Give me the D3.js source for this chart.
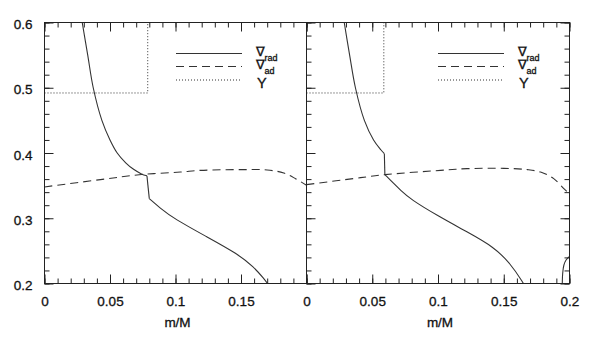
<!DOCTYPE html>
<html>
<head>
<meta charset="utf-8">
<script src="https://cdn.jsdelivr.net/npm/d3@7"></script>
<style>
  body { margin: 0; background: #fff; }
  svg { display: block; }
  text { font-family: "Liberation Sans", Arial, Helvetica, sans-serif; fill: #111; stroke: #111; stroke-width: 0.3; }
</style>
</head>
<body>
<svg id="chart" width="600" height="339"></svg>
<script>
// tick labels
var xLabelsA = [0, 0.05, 0.1, 0.15];
var xLabelsB = [0, 0.05, 0.1, 0.15, 0.2];
var yLabels = [0.2, 0.3, 0.4, 0.5, 0.6];
var xTitle = "m/M";

// left panel
var radA_top = [[0.0288,0.60],[0.0330,0.55],[0.0372,0.50],[0.0438,0.45],[0.0500,0.42],[0.0555,0.40],
  [0.0620,0.385],[0.0680,0.375],[0.0740,0.368],[0.0782,0.365]];
var radA_drop = [[0.0782,0.365],[0.0800,0.330]];
var radA_low = [[0.0800,0.330],[0.0880,0.316],[0.0987,0.2995],[0.1242,0.2713],[0.1471,0.2459],[0.1598,0.2254],
  [0.1674,0.2076],[0.1712,0.1974]];
var adA = [[0,0.348],[0.0427,0.3592],[0.074,0.367],[0.1038,0.3708],[0.1191,0.3734],[0.15,0.3745],
  [0.170,0.374],[0.1827,0.3693],[0.1916,0.3607],[0.2,0.3505]];
var heA = [[0,0.492],[0.0788,0.492],[0.0788,0.62]];

// right panel
var radB_top = [[0.0287,0.60],[0.0328,0.55],[0.0372,0.50],[0.0440,0.45],[0.0510,0.42],[0.0565,0.405],[0.0592,0.399]];
var radB_drop = [[0.0592,0.399],[0.0596,0.367]];
var radB_low = [[0.0596,0.367],[0.0664,0.353],[0.0715,0.343],[0.0791,0.329],[0.1004,0.303],[0.1222,0.279],
  [0.1425,0.256],[0.1551,0.2306],[0.1648,0.201],[0.1655,0.198]];
var radB_edge = [[0.1944,0.195],[0.1945,0.2],[0.1948,0.215],[0.1957,0.228],[0.1974,0.236],[0.2,0.2415]];
var adB = [[0,0.3515],[0.0411,0.3622],[0.0596,0.3668],[0.1019,0.3734],[0.1222,0.376],[0.15,0.3765],
  [0.1679,0.3745],[0.178,0.3708],[0.188,0.3607],[0.1957,0.3454],[0.198,0.341]];
var heB = [[0,0.492],[0.0588,0.492],[0.0588,0.62]];

var legendNames = ["rad", "ad", "Y"];

var svg = d3.select("#chart");
var top_ = 22.5, bottom = 283.5;
var ink = "#222";

var y = d3.scaleLinear().domain([0.2, 0.6]).range([bottom, top_]);

var panels = [
  {id: "a", x0: 44.5, x1: 306.5, labels: xLabelsA, rad: [radA_top, radA_drop, radA_low], ad: adA, he: heA},
  {id: "b", x0: 306.5, x1: 569.5, labels: xLabelsB, rad: [radB_top, radB_drop, radB_low, radB_edge], ad: adB, he: heB, right: true}
];

var smooth = d3.line().curve(d3.curveCatmullRom.alpha(0.5));
var basis = d3.line().curve(d3.curveBasis);
var straight = d3.line();

panels.forEach(function(p){
  var x = d3.scaleLinear().domain([0, 0.2]).range([p.x0, p.x1]);
  var g = svg.append("g");

  g.append("clipPath").attr("id", "clip" + p.id)
    .append("rect").attr("x", p.x0).attr("y", top_).attr("width", p.x1 - p.x0).attr("height", bottom - top_);

  var plot = g.append("g").attr("clip-path", "url(#clip" + p.id + ")");
  [smooth, basis, straight].forEach(function(l){
    l.x(function(d){ return x(d[0]); }).y(function(d){ return y(d[1]); });
  });

  p.rad.forEach(function(seg, i){
    var gen = seg.length <= 2 ? straight : (i === 2 ? basis : smooth);
    plot.append("path").attr("d", gen(seg))
      .attr("fill", "none").attr("stroke", "#333").attr("stroke-width", 1.1);
  });
  plot.append("path").attr("d", smooth(p.ad)).attr("fill", "none")
    .attr("stroke", "#333").attr("stroke-width", 1.1).attr("stroke-dasharray", "8,5");
  plot.append("path").attr("d", straight(p.he)).attr("fill", "none")
    .attr("stroke", "#333").attr("stroke-width", 1).attr("stroke-dasharray", "1,2");

  // frame
  g.append("rect").attr("x", p.x0).attr("y", top_).attr("width", p.x1 - p.x0).attr("height", bottom - top_)
    .attr("fill", "none").attr("stroke", ink).attr("stroke-width", 1);

  // ticks
  var minorX = x.ticks(20), minorY = y.ticks(20);
  function tickAxis(axis, tr, size, vals, labels){
    var a = axis.tickValues(vals).tickSizeInner(size).tickSizeOuter(0);
    if (!labels) a.tickFormat("");
    var s = g.append("g").attr("transform", tr).call(a);
    s.select(".domain").remove();
    s.selectAll("line").attr("stroke", ink);
    return s;
  }
  tickAxis(d3.axisBottom(x), "translate(0," + bottom + ")", -5, minorX, false);
  tickAxis(d3.axisTop(x), "translate(0," + top_ + ")", -5, minorX, false);
  tickAxis(d3.axisTop(x), "translate(0," + top_ + ")", -9, xLabelsB, false);
  var bx = tickAxis(d3.axisBottom(x).tickPadding(13).tickFormat(d3.format("")), "translate(0," + bottom + ")", -9, xLabelsB, true);
  bx.selectAll("text").attr("font-size", 13.5).attr("fill", "#111")
    .style("display", function(d){ return p.labels.indexOf(d) < 0 ? "none" : null; });

  tickAxis(d3.axisLeft(y), "translate(" + p.x0 + ",0)", -5, minorY, false);
  if (p.id === "a") {
    var ly = tickAxis(d3.axisLeft(y).tickPadding(12).tickFormat(d3.format(".1f")), "translate(" + p.x0 + ",0)", -9, yLabels, true);
    ly.selectAll("text").attr("font-size", 13.5).attr("fill", "#111").attr("dy", "0.45em");
  } else {
    tickAxis(d3.axisLeft(y), "translate(" + p.x0 + ",0)", -9, yLabels, false);
  }
  if (p.right) {
    tickAxis(d3.axisRight(y), "translate(" + p.x1 + ",0)", -5, minorY, false);
    tickAxis(d3.axisRight(y), "translate(" + p.x1 + ",0)", -9, yLabels, false);
  }

  g.append("text").attr("x", (p.x0 + p.x1) / 2 + 2).attr("y", 326.5)
    .attr("text-anchor", "middle").attr("font-size", 13.5).text(xTitle);

  // legend
  var lx0 = p.x0 + 131.5, lx1 = p.x0 + 197.5;
  var styles = [null, "8,5", "1,2"];
  var ly0 = [53.5, 66.5, 80];
  legendNames.forEach(function(name, i){
    var l = g.append("line").attr("x1", lx0).attr("x2", lx1).attr("y1", ly0[i]).attr("y2", ly0[i])
      .attr("stroke", "#333").attr("stroke-width", 1.1);
    if (styles[i]) l.attr("stroke-dasharray", styles[i]);
  });
  var t1 = g.append("text").attr("x", p.x0 + 211).attr("y", 55.5).attr("font-size", 12.5).text("\u2207");
  t1.append("tspan").attr("dy", 5.3).attr("font-size", 9).text(legendNames[0]);
  var t2 = g.append("text").attr("x", p.x0 + 211).attr("y", 69).attr("font-size", 12.5).text("\u2207");
  t2.append("tspan").attr("dy", 4.5).attr("font-size", 9).text(legendNames[1]);
  g.append("text").attr("x", p.x0 + 212.5).attr("y", 88.3).attr("font-size", 14.5).text(legendNames[2]);
});
</script>
</body>
</html>
